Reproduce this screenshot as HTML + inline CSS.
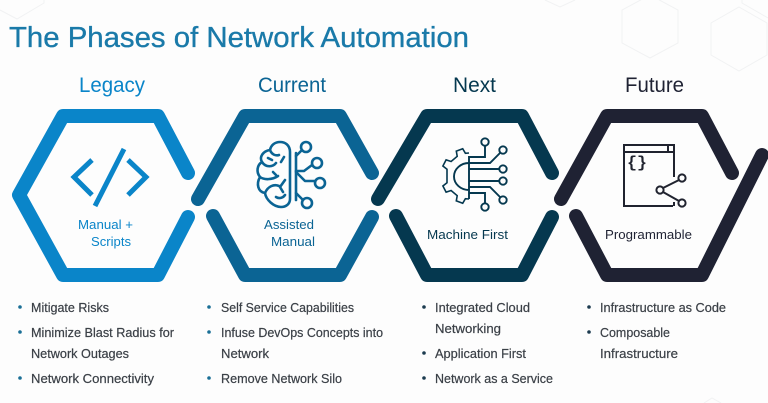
<!DOCTYPE html>
<html><head><meta charset="utf-8"><style>
html,body{margin:0;padding:0;background:#fdfdfd}
svg{display:block;filter:blur(0.35px)}
text{font-family:"Liberation Sans",sans-serif}
.b{font-size:12.5px;fill:#3b4047;stroke:#3b4047;stroke-width:.2px}
.d{fill:#1a6f96}
</style></head><body>
<svg width="768" height="403" viewBox="0 0 768 403" xmlns="http://www.w3.org/2000/svg">
<rect width="768" height="403" fill="#fdfdfd"/>
<g fill="none" stroke="#f1f2f3" stroke-width="1">
<path d="M650 -5L678 10V43L650 58L622 43V10Z"/>
<path d="M739 7L767 23V55L739 71L711 55V23Z"/>
<path d="M545 0L560 7L575 0"/>
<path d="M742 0V3L768 18"/>
<path d="M0 10L17 19L44 3V0"/>
<path d="M704 403L712 398L721 403"/>
</g>
<text x="9" y="47" font-size="29" fill="#1a7aa9" stroke="#1a7aa9" stroke-width=".35" textLength="460" lengthAdjust="spacingAndGlyphs">The Phases of Network Automation</text>

<g fill="none" stroke-width="14" stroke-linecap="round" stroke-linejoin="round">
<path stroke="#0a85c9" d="M188 173L158 116H63L19 195L63 275H158L188 217"/>
<path stroke="#0b6494" d="M198 199L245 116H340L372 173M213 216L245 275H340L372 217"/>
<path stroke="#05384f" d="M378 199L427 116H522L552 173M396 216L427 275H522L552 217"/>
<path stroke="#1f2233" d="M561 199L607 116H702L732 173M576 216L607 275H702L762 155"/>
</g>

<text x="79" y="92" font-size="21" fill="#0a85c9" textLength="66" lengthAdjust="spacingAndGlyphs">Legacy</text>
<text x="258" y="92" font-size="21" fill="#0b6494" textLength="68" lengthAdjust="spacingAndGlyphs">Current</text>
<text x="453" y="92" font-size="21" fill="#05384f" textLength="43" lengthAdjust="spacingAndGlyphs">Next</text>
<text x="625" y="92" font-size="21" fill="#1f2233" textLength="59" lengthAdjust="spacingAndGlyphs">Future</text>

<g font-size="12.5">
<text x="78" y="229" fill="#0a85c9" textLength="55" lengthAdjust="spacingAndGlyphs">Manual +</text>
<text x="91" y="246" fill="#0a85c9" textLength="40" lengthAdjust="spacingAndGlyphs">Scripts</text>
<text x="264" y="229" fill="#0b6494" textLength="50" lengthAdjust="spacingAndGlyphs">Assisted</text>
<text x="271" y="246" fill="#0b6494" textLength="44" lengthAdjust="spacingAndGlyphs">Manual</text>
<text x="427" y="239" fill="#05384f" textLength="81" lengthAdjust="spacingAndGlyphs">Machine First</text>
<text x="605" y="239" fill="#1f2233" textLength="87" lengthAdjust="spacingAndGlyphs">Programmable</text>
</g>

<!-- code icon -->
<g fill="none" stroke="#0a85c9" stroke-width="5">
<path d="M92 160L74 177L92 195M128 160L146 177L128 195M124 149L95 206"/>
</g>

<!-- brain icon -->
<g fill="none" stroke="#0b6494" stroke-width="2.6" stroke-linecap="round" stroke-linejoin="round">
<path d="M290 152C290 145 285 142 280 142C275 142 271 145 270 150C263 151 259 157 262 162C257 165 256 172 260 177C256 184 258 192 265 193C266 200 274 207 281 207C286 207 290 204 290 199Z"/>
<path d="M270 150C272 155 276 156 279 155M262 162C266 168 273 167 276 163M284 157L281 162M260 177C264 180 272 180 278 176M265 193C268 186 274 184 279 186M285 180L280 187L283 192M276 197C279 199 283 198 285 195M268 158L272 160M273 172L276 175"/>
<path d="M296 153V200"/>
<circle cx="306" cy="147" r="5"/><circle cx="317" cy="163" r="5"/><circle cx="320" cy="183" r="5"/><circle cx="307" cy="203" r="5"/>
<path d="M296 156L302 150M296 171H304L312 165M296 172L305 181H315M296 193L303 200"/>
</g>

<!-- gear icon -->
<g fill="none" stroke="#05384f" stroke-width="1.9">
<path stroke-width="1.6" d="M469 153L465.4 153.3L462.7 148.7L456.3 151.1L457.2 156.3L451.1 161.5L446.1 159.9L442.9 166L447 169.3L447 182.7L442.9 186L446.1 192.1L451.1 190.5L457.2 195.7L456.3 200.9L462.7 203.3L465.4 198.7L469 199"/>
<path d="M469 156V199M469 163A15 13.5 0 0 0 469 190"/>
<path d="M469 157H485V146M469 163H490L500 153M469 169H499M469 181H499M469 187H490L500 197M469 193H485V203"/>
<circle cx="485" cy="142" r="3.7"/><circle cx="503" cy="150" r="3.7"/><circle cx="503" cy="169" r="3.7"/><circle cx="503" cy="181" r="3.7"/><circle cx="503" cy="200" r="3.7"/><circle cx="485" cy="207" r="3.7"/>
</g>

<!-- window icon -->
<g fill="none" stroke="#20232f" stroke-width="2">
<path d="M674 177V145H624V206H673M674 202V206M624 152H674M668 145V152"/>
<circle cx="660" cy="190" r="3.6"/><circle cx="682" cy="178" r="3.6"/><circle cx="682" cy="203" r="3.6"/>
<path d="M663 188L679 180M663 192L679 201"/>
</g>
<text x="627" y="167" font-size="16" font-weight="bold" fill="#20232f" textLength="20" style="font-family:'Liberation Mono',monospace" lengthAdjust="spacingAndGlyphs">{}</text>

<!-- bullets -->
<g class="d"><circle cx="20" cy="307" r="1.8"/><circle cx="20" cy="332" r="1.8"/><circle cx="20" cy="378" r="1.8"/>
<circle cx="209" cy="307" r="1.8"/><circle cx="209" cy="332" r="1.8"/><circle cx="209" cy="378" r="1.8"/></g>
<g fill="#1c3b4f"><circle cx="424" cy="307" r="1.8"/><circle cx="424" cy="353" r="1.8"/><circle cx="424" cy="378" r="1.8"/>
<circle cx="589" cy="307" r="1.8"/><circle cx="589" cy="332" r="1.8"/></g>

<g class="b">
<text x="31" y="312" textLength="78" lengthAdjust="spacingAndGlyphs">Mitigate Risks</text>
<text x="31" y="337" textLength="143" lengthAdjust="spacingAndGlyphs">Minimize Blast Radius for</text>
<text x="31" y="358" textLength="98" lengthAdjust="spacingAndGlyphs">Network Outages</text>
<text x="31" y="383" textLength="123" lengthAdjust="spacingAndGlyphs">Network Connectivity</text>
<text x="221" y="312" textLength="133" lengthAdjust="spacingAndGlyphs">Self Service Capabilities</text>
<text x="221" y="337" textLength="162" lengthAdjust="spacingAndGlyphs">Infuse DevOps Concepts into</text>
<text x="221" y="358" textLength="48" lengthAdjust="spacingAndGlyphs">Network</text>
<text x="221" y="383" textLength="121" lengthAdjust="spacingAndGlyphs">Remove Network Silo</text>
<text x="435" y="312" textLength="95" lengthAdjust="spacingAndGlyphs">Integrated Cloud</text>
<text x="435" y="333" textLength="66" lengthAdjust="spacingAndGlyphs">Networking</text>
<text x="435" y="358" textLength="91" lengthAdjust="spacingAndGlyphs">Application First</text>
<text x="435" y="383" textLength="118" lengthAdjust="spacingAndGlyphs">Network as a Service</text>
<text x="600" y="312" textLength="126" lengthAdjust="spacingAndGlyphs">Infrastructure as Code</text>
<text x="600" y="337" textLength="70" lengthAdjust="spacingAndGlyphs">Composable</text>
<text x="600" y="358" textLength="78" lengthAdjust="spacingAndGlyphs">Infrastructure</text>
</g>
</svg>
</body></html>
